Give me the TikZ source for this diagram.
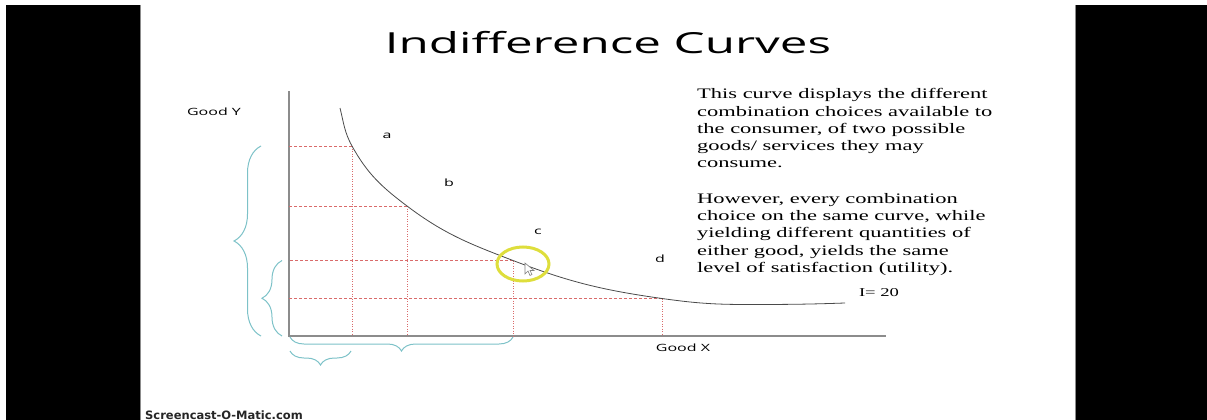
\documentclass[tikz,border=0pt]{standalone}
\usepackage{fontspec}
\setmainfont[FakeStretch=1.55]{Liberation Serif}
\newfontfamily\slidesans[FakeStretch=1.6]{Open Sans}
\newfontfamily\titlesans[FakeStretch=1.7]{Open Sans}
\newfontfamily\castfont{DejaVu Sans}
\usetikzlibrary{decorations.pathreplacing, calc}
\definecolor{GridRed}{HTML}{D96B6B}
\definecolor{BraceTeal}{HTML}{7DC2C8}
\definecolor{AxisGray}{HTML}{8C8C8C}
\definecolor{CurveGray}{HTML}{4A4A4A}
\definecolor{HiliteYellow}{HTML}{DEDE3C}

\tikzset{
  axisline/.style={AxisGray, line width=1.5pt},
  gridh/.style={GridRed, line width=0.7pt, dash pattern=on 3pt off 2pt},
  gridv/.style={GridRed, line width=0.8pt, dash pattern=on 1.2pt off 1.3pt},
  bracepath/.style={BraceTeal, line width=1pt, decorate, decoration={brace, amplitude=#1}},
  ptlabel/.style={font=\slidesans\fontsize{10}{12}\selectfont},
  bodytext/.style={align=left, inner sep=0pt, anchor=north west, font=\fontsize{14.5}{17.1}\selectfont},
}

\begin{document}
\begin{tikzpicture}[x=1pt, y=-1pt]
    \useasboundingbox (0,0) rectangle (1207,420);

    % Frame
    \fill (6,5) rectangle (140,420);
    \fill (1076,5) rectangle (1207,420);
    \draw[AxisGray, line width=1pt] (140.5,5) -- (140.5,420);
    \draw[AxisGray, line width=1pt] (1075.5,5) -- (1075.5,420);

    % Title
    \node (title) [anchor=base, font=\titlesans\fontsize{29}{35}\selectfont] at (608,53.3) {Indifference Curves};

    % Axes
    \coordinate (O) at (289,336);
    \coordinate (ytop) at (289,91);
    \coordinate (xend) at (886,336);
    \draw[axisline] (ytop) -- (O) -- (xend);

    % Points on the curve
    \coordinate (pa) at (352,146);
    \coordinate (pb) at (407,206);
    \coordinate (pc) at (513,260.5);
    \coordinate (pd) at (662,298.5);

    % Grid lines
    \foreach \p in {pa,pb,pc,pd} {
        \draw[gridh] (\p) -- (\p -| O);
        \draw[gridv] (\p) -- (\p |- O);
    }

    % Curve
    \coordinate (cstart) at (340,108);
    \coordinate (clow) at (747,304.5);
    \coordinate (cend) at (845,303);
    \draw[CurveGray, line width=0.8pt] (cstart) to[out=-76, in=119] (pa) to[out=-61, in=143] (pb)
        to[out=-37, in=159] (pc) to[out=-21, in=172] (pd) to[out=-8, in=180] (clow) to[out=0, in=182] (cend);

    % Braces
    \coordinate (ybig1) at (261,336);
    \coordinate (ybig2) at (261,146);
    \coordinate (ysmall1) at (282,336);
    \coordinate (ysmall2) at (282,260.5);
    \coordinate (xbig1) at (513,337);
    \coordinate (xbig2) at (290,337);
    \coordinate (xsmall1) at (351,351);
    \coordinate (xsmall2) at (290,351);
    \draw[bracepath=27pt] (ybig1) -- (ybig2);
    \draw[bracepath=20pt] (ysmall1) -- (ysmall2);
    \draw[bracepath=14pt] (xbig1) -- (xbig2);
    \draw[bracepath=14pt] (xsmall1) -- (xsmall2);

    % Labels
    \node (goody) [ptlabel] at (214,112) {Good Y};
    \node (goodx) [ptlabel] at (683,348) {Good X};
    \node (la) [ptlabel] at (387,136) {a};
    \node (lb) [ptlabel] at (449,183) {b};
    \node (lc) [ptlabel] at (538,232) {c};
    \node (ld) [ptlabel] at (660,259) {d};
    \node (ilabel) [font=\fontsize{12}{14}\selectfont] at (879,293) {I= 20};

    % Text
    \node (para1) [bodytext] at (697,88.5) {This curve displays the different\\
        combination choices available to\\
        the consumer, of two possible\\
        goods/ services they may\\
        consume.};
    \node (para2) [bodytext] at (697,193.5) {However, every combination\\
        choice on the same curve, while\\
        yielding different quantities of\\
        either good, yields the same\\
        level of satisfaction (utility).};

    % Highlight and pointer
    \draw[HiliteYellow, line width=3pt] (523,264) ellipse [x radius=26, y radius=17];
    \draw[fill=white, draw=gray, line width=0.6pt] (525,263) -- (525,274) -- (528,271) -- (530,275.5) -- (532,274.5) -- (530,270.5) -- (534,270.5) -- cycle;

    % Watermark
    \node (cast) [anchor=base west, inner sep=0pt, font=\castfont\bfseries\fontsize{11.5}{13}\selectfont, text=black!85] at (145,419) {Screencast-O-Matic.com};
\end{tikzpicture}
\end{document}
